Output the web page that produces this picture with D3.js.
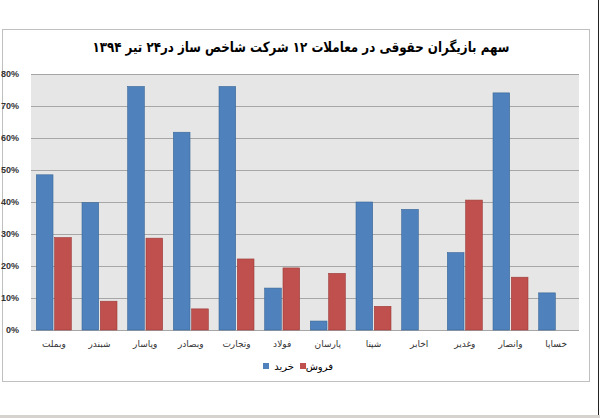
<!DOCTYPE html>
<html lang="fa">
<head>
<meta charset="UTF-8">
<title>سهم بازیگران حقوقی</title>
<script src="https://d3js.org/d3.v7.min.js"></script>
<style>
    body { margin: 0; background: #fff; }
    svg { display: block; }
    .tick text { font-family: Arial, "Liberation Sans", sans-serif; font-size: 9px; font-weight: bold; fill: #333; }
</style>
</head>
<body>
<div id="chart"></div>
<script>
// Data
const companies = ["وبملت", "شبندر", "وپاسار", "وبصادر", "وتجارت", "فولاد", "پارسان", "شپنا", "اخابر", "وغدیر", "وانصار", "خساپا"];
const buy  = [48.5, 39.8, 76.1, 61.8, 76.1, 13.1, 2.8, 40.0, 37.7, 24.2, 74.1, 11.6];
const sell = [28.9, 9.0, 28.7, 6.6, 22.2, 19.4, 17.7, 7.4, 0, 40.6, 16.5, 0];
const seriesNames = ["خرید", "فروش"];
const yTicks = [0, 10, 20, 30, 40, 50, 60, 70, 80];
const title = "سهم بازیگران حقوقی در معاملات ۱۲ شرکت شاخص ساز در۲۴ تیر ۱۳۹۴";

const width = 600, height = 418;
const plot = { left: 31, right: 579, top: 74, bottom: 330 };
const colors = ["#4f81bd", "#c0504d"];
const strokes = ["#3a6796", "#9b3b39"];
const faFont = "Tahoma, 'DejaVu Sans', sans-serif";

const svg = d3.select("#chart").append("svg")
    .attr("width", width)
    .attr("height", height);

// outer frame
svg.append("rect")
    .attr("x", 2.5).attr("y", 29.5)
    .attr("width", 587).attr("height", 352)
    .attr("fill", "#fff").attr("stroke", "#bfbfbf");

svg.append("line")
    .attr("x1", 598.5).attr("x2", 598.5).attr("y1", 0).attr("y2", 415)
    .attr("stroke", "#222");
svg.append("rect")
    .attr("x", 0).attr("y", 415).attr("width", width).attr("height", 3)
    .attr("fill", "#d6d3ce");

// title
svg.append("text")
    .attr("x", 301).attr("y", 52)
    .attr("text-anchor", "middle")
    .attr("direction", "rtl")
    .attr("textLength", 417)
    .attr("lengthAdjust", "spacingAndGlyphs")
    .style("font-family", faFont)
    .style("font-size", "14px")
    .style("font-weight", "bold")
    .text(title);

const x = d3.scaleBand()
    .domain(companies)
    .range([plot.left, plot.right])
    .paddingInner(0.234)
    .paddingOuter(0.117);

const xSub = d3.scaleBand()
    .domain([0, 1])
    .range([0, x.bandwidth()])
    .paddingInner(0.09);

const y = d3.scaleLinear()
    .domain([0, 80])
    .range([plot.bottom, plot.top]);

// plot background
svg.append("rect")
    .attr("x", plot.left).attr("y", plot.top)
    .attr("width", plot.right - plot.left).attr("height", plot.bottom - plot.top)
    .attr("fill", "#e6e6e6");

// grid
svg.append("g")
    .selectAll("line")
    .data(yTicks)
    .enter().append("line")
    .attr("x1", plot.left).attr("x2", plot.right)
    .attr("y1", d => Math.round(y(d)) + 0.5)
    .attr("y2", d => Math.round(y(d)) + 0.5)
    .attr("stroke", "#a6a6a6");

// y axis labels
const yAxis = svg.append("g")
    .attr("transform", `translate(${plot.left - 9},0)`)
    .call(d3.axisLeft(y).tickValues(yTicks).tickSize(0).tickFormat(d => d + "%"));
yAxis.select(".domain").remove();

// x axis labels
const xAxis = svg.append("g")
    .attr("transform", `translate(0,${plot.bottom + 8})`)
    .call(d3.axisBottom(x).tickSize(0));
xAxis.select(".domain").remove();
xAxis.selectAll("text")
    .style("font-family", faFont)
    .style("font-weight", "normal")
    .style("font-size", "9px");

// bars
const series = [buy, sell];
series.forEach((vals, s) => {
    svg.append("g")
        .selectAll("rect")
        .data(companies.map((c, i) => ({ c, v: vals[i] })).filter(d => d.v > 0))
        .enter().append("rect")
        .attr("x", d => x(d.c) + xSub(s))
        .attr("y", d => y(d.v))
        .attr("width", xSub.bandwidth())
        .attr("height", d => y(0) - y(d.v))
        .attr("fill", colors[s])
        .attr("stroke", strokes[s])
        .attr("stroke-width", 0.6);
});

// legend
const legend = svg.append("g");
const legendItems = [
    { name: seriesNames[0], color: colors[0], sq: 263, tx: 294 },
    { name: seriesNames[1], color: colors[1], sq: 300, tx: 333 }
];
legendItems.forEach(d => {
    legend.append("rect")
        .attr("x", d.sq).attr("y", 363)
        .attr("width", 6).attr("height", 6)
        .attr("fill", d.color);
    legend.append("text")
        .attr("x", d.tx).attr("y", 370)
        .attr("text-anchor", "end")
        .style("font-family", faFont)
        .style("font-size", "10px")
        .text(d.name);
});
</script>
</body>
</html>
